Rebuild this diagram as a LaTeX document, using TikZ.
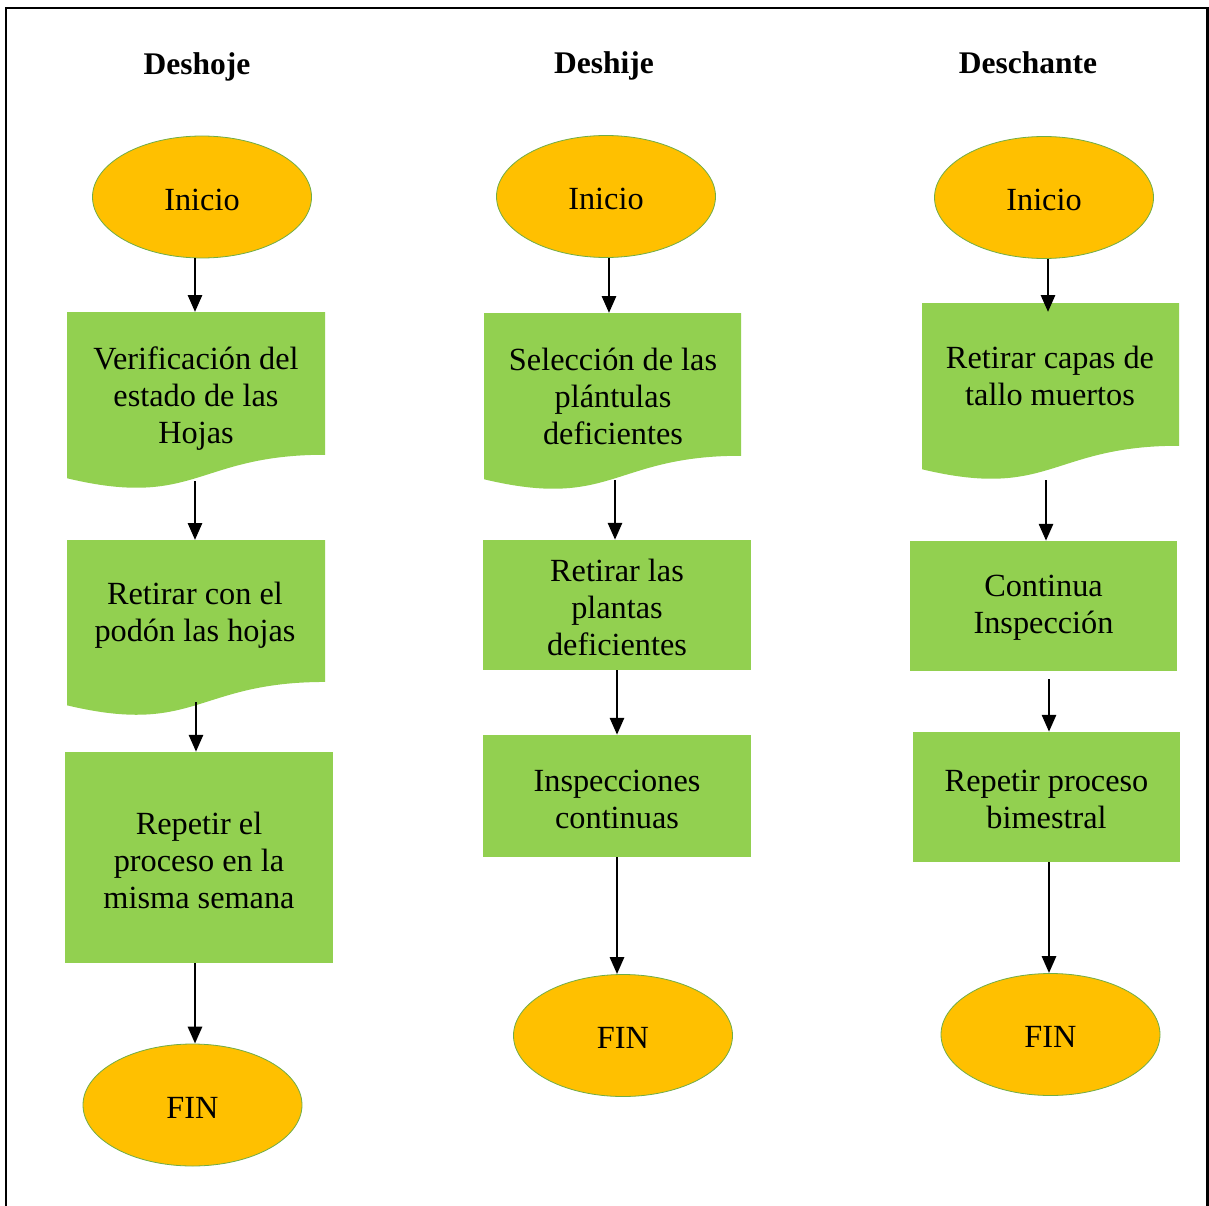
\documentclass[tikz,border=0pt]{standalone}
\usepackage{fontspec}
\setmainfont{Liberation Serif}
\usetikzlibrary{arrows.meta,shapes.geometric}
\definecolor{gfill}{HTML}{92D050}
\definecolor{ofill}{HTML}{FFC000}
\definecolor{oline}{HTML}{70AD47}
\newcommand\docpath[4]{\fill[gfill] (#1,#3) -- (#2,#3) -- (#2,{#3+0.802*#4}) .. controls ({(#1+#2)/2},{#3+0.802*#4}) and ({(#1+#2)/2},{#3+1.1075*#4}) .. (#1,{#3+0.934*#4}) -- cycle;}
\begin{document}
\begin{tikzpicture}[x=1pt,y=-1pt,
  font=\fontsize{32.3}{37}\selectfont,
  term/.style={ellipse, fill=ofill, draw=oline, line width=0.8pt, minimum width=219pt, minimum height=122pt, inner sep=0pt},
  gbox/.style={fill=gfill, inner sep=0pt},
  txt/.style={align=center, inner sep=0pt},
  arr/.style={-{Triangle[width=14pt,length=17pt]}, line width=2.9pt},
  ttl/.style={font=\fontsize{31.5}{37}\selectfont\bfseries, inner sep=0pt}]
\useasboundingbox (0,0) rectangle (1209,1206);
\fill[white] (0,0) rectangle (1209,1206);
\draw[line width=2.5pt] (6,1206) -- (6,8) -- (1207.5,8) -- (1207.5,1206);

% titles
\node[ttl] (t1) at (197,67) {Deshoje};
\node[ttl] (t2) at (604,66) {Deshije};
\node[ttl] (t3) at (1028,63) {Deschante};

% column 1
\node[term] (i1) at (202,197) {};
\node[txt] (i1t) at ([yshift=-2.5pt]i1.center) {Inicio};
\docpath{67}{325}{312}{178}
\node[txt] (d1) at (196,398.5) {Verificación del\\estado de las\\Hojas};
\docpath{67}{325}{540}{177}
\node[txt] (d2) at (195,615) {Retirar con el\\podón las hojas};
\node[gbox, minimum width=268pt, minimum height=211pt] (b13) at (199,857.5) {};
\node[txt] (b13t) at ([yshift=-3pt]b13.center) {Repetir el\\proceso en la\\misma semana};
\node[term] (f1) at (192.5,1105) {};
\node[txt] (f1t) at ([yshift=-2.5pt]f1.center) {FIN};
\coordinate (d1t) at (195,312);
\coordinate (d1b) at (195,481);
\coordinate (d2t) at (195,540);
\coordinate (d2b) at (196,702);
\draw[arr] (i1.south -| d1t) -- (d1t);
\draw[arr] (d1b) -- (d2t);
\draw[arr] (d2b) -- (b13.north -| d2b);
\draw[arr] (b13.south -| d1t) -- (f1.north -| d1t);

% column 2
\node[term] (i2) at (606,196.5) {};
\node[txt] (i2t) at ([yshift=-2.5pt]i2.center) {Inicio};
\docpath{484}{741}{313}{178}
\node[txt] (d3) at (613,396) {Selección de las\\plántulas\\deficientes};
\node[gbox, minimum width=268pt, minimum height=130pt] (b22) at (617,605) {};
\node[txt] (b22t) at ([yshift=-2pt]b22.center) {Retirar las\\plantas\\deficientes};
\node[gbox, minimum width=268pt, minimum height=122pt] (b23) at (617,796) {};
\node[txt] (b23t) at ([yshift=-3pt]b23.center) {Inspecciones\\continuas};
\node[term] (f2) at (623,1035.5) {};
\node[txt] (f2t) at ([yshift=-2.5pt]f2.center) {FIN};
\coordinate (d3t) at (609,313);
\coordinate (d3b) at (615,480);
\draw[arr] (i2.south -| d3t) -- (d3t);
\draw[arr] (d3b) -- (b22.north -| d3b);
\draw[arr] (b22.south) -- (b23.north);
\draw[arr] (b23.south) -- (f2.north -| b23.south);

% column 3
\node[term] (i3) at (1044,197.5) {};
\node[txt] (i3t) at ([yshift=-2.5pt]i3.center) {Inicio};
\docpath{922}{1179}{303}{178}
\node[txt] (d4) at (1050,376) {Retirar capas de\\tallo muertos};
\node[gbox, minimum width=267pt, minimum height=130pt] (b32) at (1043.5,606) {};
\node[txt] (b32t) at ([yshift=-2pt]b32.center) {Continua\\Inspección};
\node[gbox, minimum width=267pt, minimum height=130pt] (b33) at (1046.5,797) {};
\node[txt] (b33t) at ([yshift=-2pt]b33.center) {Repetir proceso\\bimestral};
\node[term] (f3) at (1050.5,1034.5) {};
\node[txt] (f3t) at ([yshift=-2.5pt]f3.center) {FIN};
\coordinate (d4t) at (1048,312);
\coordinate (d4b) at (1046,480);
\coordinate (c3a) at (1049,679);
\draw[arr] (i3.south -| d4t) -- (d4t);
\draw[arr] (d4b) -- (b32.north -| d4b);
\draw[arr] (c3a) -- (b33.north -| c3a);
\draw[arr] (b33.south -| c3a) -- (f3.north -| c3a);
\end{tikzpicture}
\end{document}
